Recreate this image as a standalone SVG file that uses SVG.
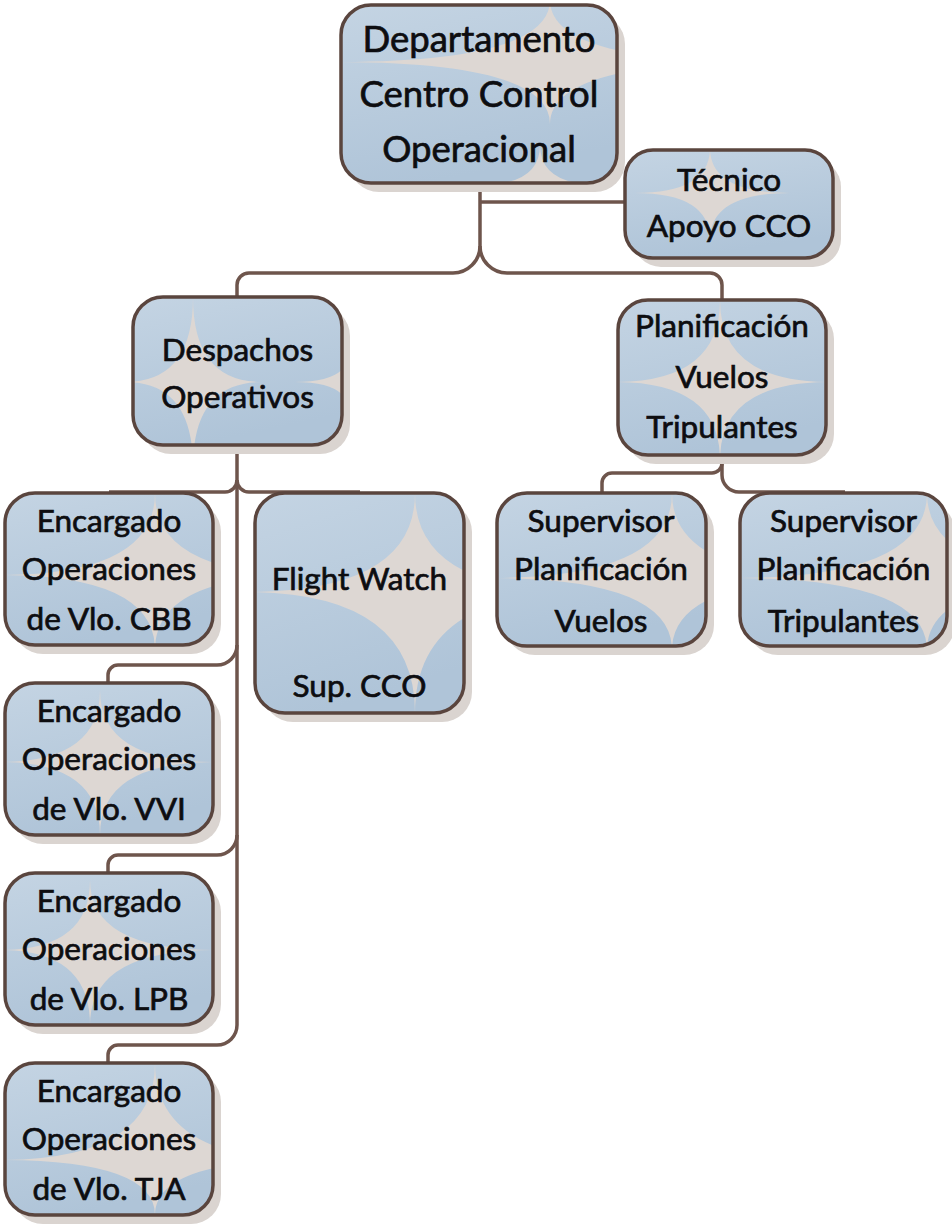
<svg xmlns="http://www.w3.org/2000/svg" width="952" height="1226" viewBox="0 0 952 1226">
<style>
.sh{fill:#dad4d0}
.bg{fill:url(#g)}
.st{fill:#ddd7d3}
.bd{fill:none;stroke:#5a453e;stroke-width:3.5}
.t{font-family:Lato,"Open Sans","Liberation Sans",sans-serif;font-size:31.5px;text-anchor:middle;fill:#0d0d10;stroke:#0d0d10;stroke-width:0.7}
.big{font-size:36.5px}
.cn{fill:none;stroke:#6e554c;stroke-width:3.5}
</style>
<defs>
<linearGradient id="g" x1="0" y1="0" x2="0.3" y2="1">
<stop offset="0" stop-color="#c4d4e3"/>
<stop offset="1" stop-color="#afc4d8"/>
</linearGradient>
<clipPath id="c1"><rect x="341" y="5" width="276" height="178" rx="30"/></clipPath>
<clipPath id="c2"><rect x="625" y="150" width="208" height="108" rx="28"/></clipPath>
<clipPath id="c3"><rect x="133" y="297" width="209" height="148" rx="30"/></clipPath>
<clipPath id="c4"><rect x="618" y="300" width="208" height="155" rx="30"/></clipPath>
<clipPath id="c5"><rect x="5" y="493" width="208" height="152" rx="30"/></clipPath>
<clipPath id="c6"><rect x="255" y="493" width="209" height="220" rx="30"/></clipPath>
<clipPath id="c7"><rect x="497" y="493" width="209" height="153" rx="30"/></clipPath>
<clipPath id="c8"><rect x="740" y="493" width="207" height="153" rx="30"/></clipPath>
<clipPath id="c9"><rect x="5" y="683" width="208" height="152" rx="30"/></clipPath>
<clipPath id="c10"><rect x="5" y="873" width="208" height="152" rx="30"/></clipPath>
<clipPath id="c11"><rect x="5" y="1063" width="208" height="152" rx="30"/></clipPath>
</defs>

<g id="connectors">
<path class="cn" d="M480,183 V246 A27,27 0 0 1 453,273 H249 A12,12 0 0 0 237,285 V297"/>
<path class="cn" d="M480,246 A27,27 0 0 0 507,273 H710 A12,12 0 0 1 722,285 V300"/>
<path class="cn" d="M480,202 H625"/>
<path class="cn" d="M237,445 V1025"/>
<path class="cn" d="M237,480 A12,12 0 0 1 225,492 H109"/>
<path class="cn" d="M237,480 A12,12 0 0 0 249,492 H360"/>
<path class="cn" d="M237,645 A20,20 0 0 1 217,665 H118 A10,10 0 0 0 108,675 V683"/>
<path class="cn" d="M237,835 A20,20 0 0 1 217,855 H118 A10,10 0 0 0 108,865 V873"/>
<path class="cn" d="M237,1025 A20,20 0 0 1 217,1045 H118 A10,10 0 0 0 108,1055 V1063"/>
<path class="cn" d="M722,455 V463 A10,10 0 0 1 712,473 H612 A10,10 0 0 0 602,483 V493"/>
<path class="cn" d="M722,463 V475 A17,17 0 0 0 739,492 H845"/>
</g>

<g id="n1">
<rect class="sh" x="349" y="14" width="276" height="178" rx="30"/>
<g clip-path="url(#c1)">
<rect class="bg" x="341" y="5" width="276" height="178"/>
<path class="st" d="M335,62 Q550,62 550,0 Q550,62 760,62 Q550,62 550,124 Q550,62 335,62 Z"/>
<path class="st" d="M480,185 Q540,185 540,145 Q540,185 600,185 Z"/>
</g>
<rect class="bd" x="341" y="5" width="276" height="178" rx="30"/>
<text class="t big" x="479" y="52">Departamento</text>
<text class="t big" x="479" y="107">Centro Control</text>
<text class="t big" x="479" y="162">Operacional</text>
</g>

<g id="n2">
<rect class="sh" x="633" y="159" width="208" height="108" rx="28"/>
<g clip-path="url(#c2)">
<rect class="bg" x="625" y="150" width="208" height="108"/>
<path class="st" d="M635,193 Q710,193 710,148 Q710,193 790,193 Q710,193 710,240 Q710,193 635,193 Z"/>
</g>
<rect class="bd" x="625" y="150" width="208" height="108" rx="28"/>
<text class="t" x="729" y="191">Técnico</text>
<text class="t" x="729" y="237">Apoyo CCO</text>
</g>

<g id="n3">
<rect class="sh" x="141" y="306" width="209" height="148" rx="30"/>
<g clip-path="url(#c3)">
<rect class="bg" x="133" y="297" width="209" height="148"/>
<path class="st" d="M125,382 Q193,382 193,297 Q193,382 262,382 Q193,382 193,467 Q193,382 125,382 Z"/>
<path class="st" d="M295,382 Q350,382 350,350 Q350,382 405,382 Q350,382 350,414 Q350,382 295,382 Z"/>
</g>
<rect class="bd" x="133" y="297" width="209" height="148" rx="30"/>
<text class="t" x="237.5" y="361">Despachos</text>
<text class="t" x="237.5" y="408">Operativos</text>
</g>

<g id="n4">
<rect class="sh" x="626" y="309" width="208" height="155" rx="30"/>
<g clip-path="url(#c4)">
<rect class="bg" x="618" y="300" width="208" height="155"/>
<path class="st" d="M615,382 Q720,382 720,300 Q720,382 830,382 Q720,382 720,460 Q720,382 615,382 Z"/>
</g>
<rect class="bd" x="618" y="300" width="208" height="155" rx="30"/>
<text class="t" x="722" y="337">Planificación</text>
<text class="t" x="722" y="388">Vuelos</text>
<text class="t" x="722" y="438">Tripulantes</text>
</g>

<g id="n5">
<rect class="sh" x="13" y="502" width="208" height="152" rx="30"/>
<g clip-path="url(#c5)">
<rect class="bg" x="5" y="493" width="208" height="152"/>
<path class="st" d="M0,575 Q155,575 155,493 Q155,575 310,575 Q155,575 155,650 Q155,575 0,575 Z"/>
</g>
<rect class="bd" x="5" y="493" width="208" height="152" rx="30"/>
<text class="t" x="109" y="532">Encargado</text>
<text class="t" x="109" y="580">Operaciones</text>
<text class="t" x="109" y="630">de Vlo. CBB</text>
</g>

<g id="n6">
<rect class="sh" x="263" y="502" width="209" height="220" rx="30"/>
<g clip-path="url(#c6)">
<rect class="bg" x="255" y="493" width="209" height="220"/>
<path class="st" d="M245,592 Q415,592 415,493 Q415,592 585,592 Q415,592 415,713 Q415,592 245,592 Z"/>
</g>
<rect class="bd" x="255" y="493" width="209" height="220" rx="30"/>
<text class="t" x="359.5" y="590">Flight Watch</text>
<text class="t" x="359.5" y="697">Sup. CCO</text>
</g>

<g id="n7">
<rect class="sh" x="505" y="502" width="209" height="153" rx="30"/>
<g clip-path="url(#c7)">
<rect class="bg" x="497" y="493" width="209" height="153"/>
<path class="st" d="M490,578 Q672,578 672,493 Q672,578 850,578 Q672,578 672,650 Q672,578 490,578 Z"/>
</g>
<rect class="bd" x="497" y="493" width="209" height="153" rx="30"/>
<text class="t" x="601" y="532">Supervisor</text>
<text class="t" x="601" y="580">Planificación</text>
<text class="t" x="601" y="632">Vuelos</text>
</g>

<g id="n8">
<rect class="sh" x="748" y="502" width="207" height="153" rx="30"/>
<g clip-path="url(#c8)">
<rect class="bg" x="740" y="493" width="207" height="153"/>
<path class="st" d="M735,578 Q927,578 927,493 Q927,578 1110,578 Q927,578 927,650 Q927,578 735,578 Z"/>
</g>
<rect class="bd" x="740" y="493" width="207" height="153" rx="30"/>
<text class="t" x="843.5" y="532">Supervisor</text>
<text class="t" x="843.5" y="580">Planificación</text>
<text class="t" x="843.5" y="632">Tripulantes</text>
</g>

<g id="n9">
<rect class="sh" x="13" y="692" width="208" height="152" rx="30"/>
<g clip-path="url(#c9)">
<rect class="bg" x="5" y="683" width="208" height="152"/>
<path class="st" d="M0,762 Q100,762 100,690 Q100,762 215,762 Q100,762 100,835 Q100,762 0,762 Z"/>
</g>
<rect class="bd" x="5" y="683" width="208" height="152" rx="30"/>
<text class="t" x="109" y="722">Encargado</text>
<text class="t" x="109" y="770">Operaciones</text>
<text class="t" x="109" y="820">de Vlo. VVI</text>
</g>

<g id="n10">
<rect class="sh" x="13" y="882" width="208" height="152" rx="30"/>
<g clip-path="url(#c10)">
<rect class="bg" x="5" y="873" width="208" height="152"/>
<path class="st" d="M0,950 Q90,950 90,880 Q90,950 215,950 Q90,950 90,1025 Q90,950 0,950 Z"/>
</g>
<rect class="bd" x="5" y="873" width="208" height="152" rx="30"/>
<text class="t" x="109" y="912">Encargado</text>
<text class="t" x="109" y="960">Operaciones</text>
<text class="t" x="109" y="1010">de Vlo. LPB</text>
</g>

<g id="n11">
<rect class="sh" x="13" y="1072" width="208" height="152" rx="30"/>
<g clip-path="url(#c11)">
<rect class="bg" x="5" y="1063" width="208" height="152"/>
<path class="st" d="M0,1160 Q155,1160 155,1063 Q155,1160 310,1160 Q155,1160 155,1215 Q155,1160 0,1160 Z"/>
</g>
<rect class="bd" x="5" y="1063" width="208" height="152" rx="30"/>
<text class="t" x="109" y="1102">Encargado</text>
<text class="t" x="109" y="1150">Operaciones</text>
<text class="t" x="109" y="1200">de Vlo. TJA</text>
</g>
</svg>
